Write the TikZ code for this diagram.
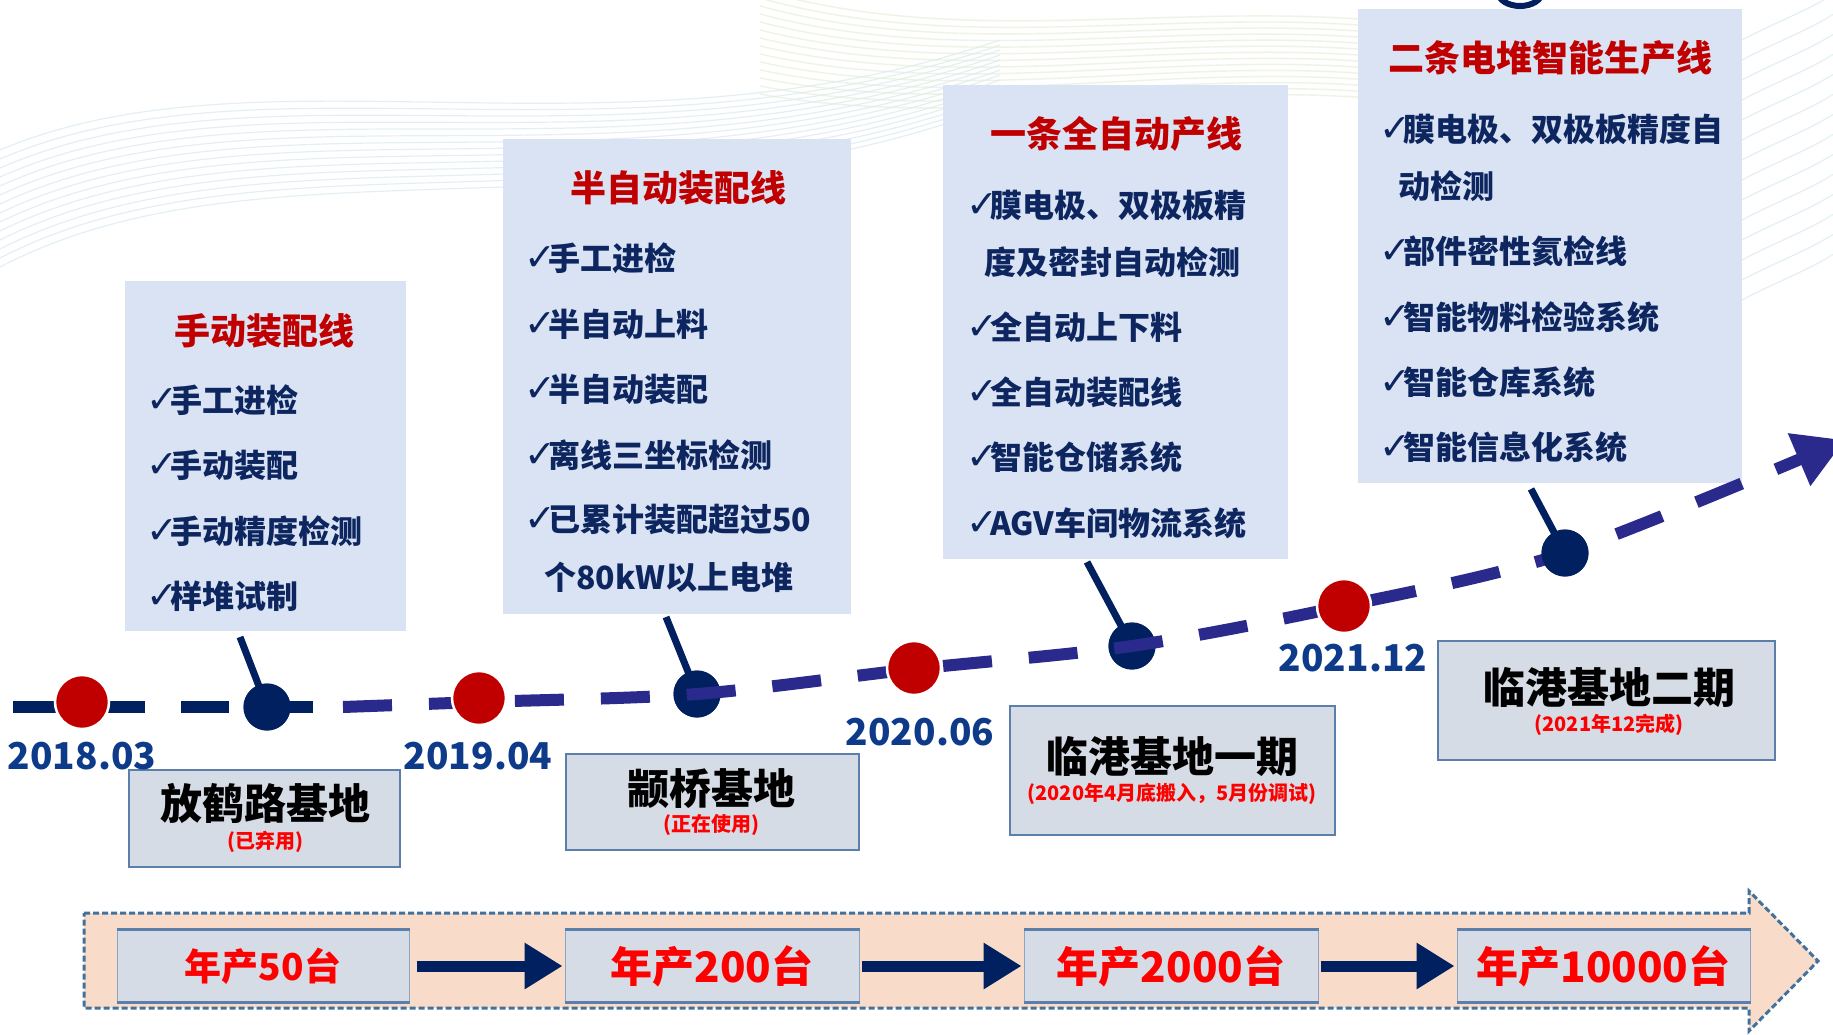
\documentclass[tikz,border=0pt]{standalone}
\usepackage{fontspec}
\setmainfont{Noto Sans CJK SC}
\newfontfamily\chkfont{DejaVu Sans}
\usetikzlibrary{arrows.meta}
\definecolor{navy}{HTML}{002060}
\definecolor{indigo}{HTML}{2A2A8C}
\definecolor{dotred}{HTML}{C00000}
\definecolor{topfill}{HTML}{DAE3F3}
\definecolor{basefill}{HTML}{D6DCE5}
\definecolor{baseedge}{HTML}{5B7FAA}
\definecolor{datecol}{HTML}{0E3A8A}
\definecolor{itemcol}{HTML}{0D2660}
\definecolor{bandfill}{HTML}{F8DCC9}
\definecolor{bandedge}{HTML}{41719C}
\definecolor{brightred}{HTML}{FF0000}
\definecolor{wavecol}{HTML}{CFE3EE}
\definecolor{wavegreen}{HTML}{E2EED2}
\newcommand\chkmk{\makebox[24pt][l]{\fontsize{38}{38}\chkfont\mdseries\selectfont ✓}}
\begin{document}
\begin{tikzpicture}[x=1pt,y=-1pt,
  topbox/.style={fill=topfill,draw=none,inner sep=0},
  toptitle/.style={text=dotred,inner sep=0,font=\fontsize{36}{40}\selectfont\bfseries},
  item/.style={anchor=west,inner sep=0,text=itemcol,font=\fontsize{32}{38}\selectfont\bfseries},
  basebox/.style={fill=basefill,draw=baseedge,line width=2.5pt,inner sep=0},
  basetitle/.style={inner sep=0,text=black,font=\fontsize{42}{46}\selectfont\bfseries},
  basesub/.style={inner sep=0,text=brightred,font=\fontsize{20}{22}\selectfont\bfseries},
  datelbl/.style={inner sep=0,text=datecol,font=\fontsize{37}{40}\selectfont\bfseries},
  stem/.style={navy,line width=7pt},
  navydot/.style={circle,fill=navy,minimum size=47pt,inner sep=0},
  reddot/.style={circle,fill=dotred,draw=white,line width=2.5pt,minimum size=54pt,inner sep=0},
  dashA/.style={navy,line width=12pt,dash pattern=on 48pt off 36pt},
  dashB/.style={indigo,line width=12pt,dash pattern=on 49pt off 37pt},
  prodbox/.style={fill=basefill,draw=baseedge!70,line width=1pt,inner sep=0,minimum height=72pt},
  prodtxt/.style={inner sep=0,text=brightred,font=\fontsize{42}{46}\selectfont\bfseries},
  prodedge/.style={draw=baseedge,line width=3.5pt},
  bigarrow/.style={navy,line width=11pt,-{Triangle[length=38pt,width=44pt]}},
  wave/.style={wavecol,line width=1.2pt,opacity=0.55},
  waveg/.style={wavegreen,line width=1.4pt,opacity=0.6}]
\useasboundingbox (0,0) rectangle (1833,1034);
\begin{scope}
\clip (0,0) rectangle (1833,1034);
\fill[white] (0,0) rectangle (1833,1034);
% background waves
\foreach \i in {0,...,13}{
  \draw[wave] (0,150+9*\i) .. controls (260,40+7*\i) and (620,170+6*\i) .. (1000,40+5*\i);
  \draw[waveg] (760,-10+8*\i) .. controls (1000,60+6*\i) and (1250,-20+6*\i) .. (1500,40+6*\i);
  \draw[wave] (1742,40+20*\i) .. controls (1780,20+20*\i) and (1810,10+20*\i) .. (1840,-10+20*\i);
}
\draw[navy,line width=6pt] (1520,-8) ellipse (22 and 14);

% top boxes
\node[topbox,minimum width=281pt,minimum height=350pt] (b1) at (265.5,456) {};
\node[topbox,minimum width=348pt,minimum height=475pt] (b2) at (677,376.5) {};
\node[topbox,minimum width=345pt,minimum height=474pt] (b3) at (1115.5,322) {};
\node[topbox,minimum width=384pt,minimum height=474pt] (b4) at (1550,246) {};

\node[toptitle] (t1) at (264,331) {手动装配线};
\node[item] (b1i1) at (146,400) {\chkmk 手工进检};
\node[item] (b1i2) at (146,465) {\chkmk 手动装配};
\node[item] (b1i3) at (146,531) {\chkmk 手动精度检测};
\node[item] (b1i4) at (146,596) {\chkmk 样堆试制};

\node[toptitle] (t2) at (678,188) {半自动装配线};
\node[item] (b2i1) at (524,258) {\chkmk 手工进检};
\node[item] (b2i2) at (524,324) {\chkmk 半自动上料};
\node[item] (b2i3) at (524,389) {\chkmk 半自动装配};
\node[item] (b2i4) at (524,455) {\chkmk 离线三坐标检测};
\node[item] (b2i5) at (524,519) {\chkmk 已累计装配超过50};
\node[item] (b2i6) at (544,577) {个80kW以上电堆};

\node[toptitle] (t3) at (1116,134) {一条全自动产线};
\node[item] (b3i1) at (966,205) {\chkmk 膜电极、双极板精};
\node[item] (b3i2) at (984,262) {度及密封自动检测};
\node[item] (b3i3) at (966,327) {\chkmk 全自动上下料};
\node[item] (b3i4) at (966,392) {\chkmk 全自动装配线};
\node[item] (b3i5) at (966,457) {\chkmk 智能仓储系统};
\node[item] (b3i6) at (966,523) {\chkmk AGV车间物流系统};

\node[toptitle] (t4) at (1550,58) {二条电堆智能生产线};
\node[item] (b4i1) at (1379,129) {\chkmk 膜电极、双极板精度自};
\node[item] (b4i2) at (1398,186) {动检测};
\node[item] (b4i3) at (1379,251) {\chkmk 部件密性氦检线};
\node[item] (b4i4) at (1379,317) {\chkmk 智能物料检验系统};
\node[item] (b4i5) at (1379,382) {\chkmk 智能仓库系统};
\node[item] (b4i6) at (1379,447) {\chkmk 智能信息化系统};

% base boxes
\node[basebox,minimum width=271pt,minimum height=97pt] (p1) at (264.5,818.5) {};
\node[basebox,minimum width=293pt,minimum height=96pt] (p2) at (712.5,802) {};
\node[basebox,minimum width=325pt,minimum height=129pt] (p3) at (1172.5,770.5) {};
\node[basebox,minimum width=337pt,minimum height=119pt] (p4) at (1606.5,700.5) {};
\node[basetitle] (p1t) at (265,803) {放鹤路基地};
\node[basesub] (p1s) at (265,842) {(已弃用)};
\node[basetitle] (p2t) at (711,789) {颛桥基地};
\node[basesub] (p2s) at (711,825) {(正在使用)};
\node[basetitle] (p3t) at (1172,756) {临港基地一期};
\node[basesub] (p3s) at (1172,794) {(2020年4月底搬入，5月份调试)};
\node[basetitle] (p4t) at (1609,687) {临港基地二期};
\node[basesub] (p4s) at (1609,725) {(2021年12完成)};

% timeline
\coordinate (st1) at (240,637);
\coordinate (st2) at (666,617);
\coordinate (st3) at (1087,562);
\coordinate (st4) at (1531,489);
\node[navydot] (d1) at (267,707) {};
\node[navydot] (d2) at (697,694) {};
\node[navydot] (d3) at (1132,646) {};
\node[navydot] (d4) at (1565,553) {};
\draw[stem] (st1) -- (d1.center);
\draw[stem] (st2) -- (d2.center);
\draw[stem] (st3) -- (d3.center);
\draw[stem] (st4) -- (d4.center);
\node[navydot] at (d2) {};
\node[navydot] at (d3) {};

\coordinate (l1a) at (13,707);
\coordinate (l1b) at (317,707);
\draw[dashA] (l1a) -- (l1b);
\coordinate (l2a) at (343,707);
\coordinate (l2b) at (479,702);
\coordinate (l2c) at (914,669);
\coordinate (l2d) at (1344,606);
\coordinate (l2e) at (1845,440);
\draw[dashB,-{Triangle[length=50pt,width=54pt]}] plot[smooth,tension=0.5] coordinates {(l2a) (l2b) (d2.center) (l2c) (d3.center) (l2d) (d4.center) (l2e)};

\node[navydot] at (d1) {};
\node[navydot] at (d4) {};
\node[reddot] (r1) at (82,702) {};
\node[reddot] (r2) at (479,698) {};
\node[reddot] (r3) at (914,668) {};
\node[reddot] (r4) at (1344,606) {};

\node[datelbl] (y1) at (82,756) {2018.03};
\node[datelbl] (y2) at (478,756) {2019.04};
\node[datelbl] (y3) at (920,732) {2020.06};
\node[datelbl] (y4) at (1353,658) {2021.12};

% bottom band
\draw[fill=bandfill,draw=bandedge,line width=3pt,dash pattern=on 6pt off 3pt]
  (84,913) -- (1749,913) -- (1749,891) -- (1818,961) -- (1749,1031) -- (1749,1008) -- (84,1008) -- cycle;
\node[prodbox,minimum width=292pt] (q1) at (263,966) {};
\node[prodbox,minimum width=294pt] (q2) at (712,966) {};
\node[prodbox,minimum width=294pt] (q3) at (1171,966) {};
\node[prodbox,minimum width=293pt] (q4) at (1603.5,966) {};
\foreach \q in {q1,q2,q3,q4}{
  \draw[prodedge] (\q.north west) -- (\q.north east);
  \draw[prodedge] (\q.south west) -- (\q.south east);
}
\node[prodtxt,font=\fontsize{37}{40}\selectfont\bfseries] (q1t) at (q1) {年产50台};
\node[prodtxt] (q2t) at (q2) {年产200台};
\node[prodtxt] (q3t) at (q3) {年产2000台};
\node[prodtxt] (q4t) at (q4) {年产10000台};
\draw[bigarrow] ([xshift=7pt]q1.east) -- ([xshift=-2pt]q2.west);
\draw[bigarrow] ([xshift=2pt]q2.east) -- ([xshift=-2pt]q3.west);
\draw[bigarrow] ([xshift=2pt]q3.east) -- ([xshift=-2pt]q4.west);
\end{scope}
\end{tikzpicture}
\end{document}
